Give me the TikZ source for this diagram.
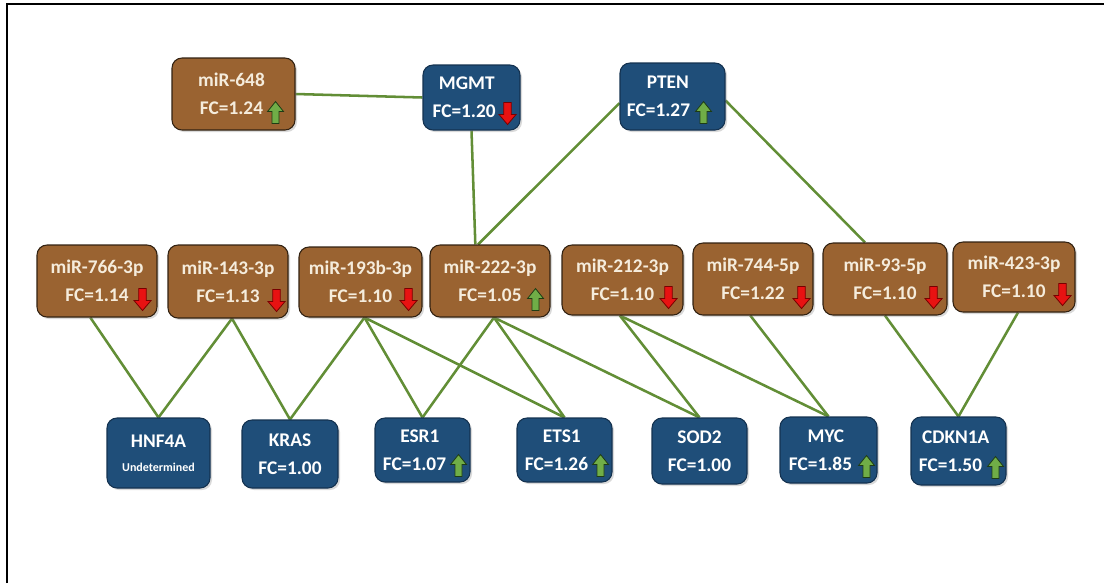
\documentclass[tikz,border=0pt]{standalone}
\usepackage{fontspec}
\setmainfont{Carlito}
\usetikzlibrary{shadows,backgrounds}
\definecolor{brownf}{RGB}{154,99,49}
\definecolor{browndraw}{RGB}{50,34,18}
\definecolor{bluef}{RGB}{31,78,121}
\definecolor{bluedraw}{RGB}{20,50,80}
\definecolor{linkc}{RGB}{98,142,54}
\definecolor{cream}{RGB}{245,236,220}
\definecolor{upg}{RGB}{112,173,71}
\definecolor{upd}{RGB}{30,60,20}
\definecolor{dnr}{RGB}{232,18,18}
\definecolor{dnd}{RGB}{120,0,0}
\tikzset{
  box/.style={rounded corners=7.5pt, line width=0.8pt, align=center,
    font=\fontsize{14.5}{21}\selectfont\bfseries, inner sep=0pt,
    drop shadow={shadow xshift=1.5pt, shadow yshift=-1.5pt, opacity=0.3}},
  mirbox/.style={box, fill=brownf, draw=browndraw, text=cream},
  genebox/.style={box, fill=bluef, draw=bluedraw, text=white},
  link/.style={draw=linkc, line width=1.9pt},
  upar/.pic={\draw[fill=upg, draw=upd, line width=0.6pt] (0,-11) -- (8,-1) -- (3.5,-1) -- (3.5,11) -- (-3.5,11) -- (-3.5,-1) -- (-8,-1) -- cycle;},
  dnar/.pic={\draw[fill=dnr, draw=dnd, line width=0.6pt] (0,11) -- (8.5,1) -- (3.8,1) -- (3.8,-11) -- (-3.8,-11) -- (-3.8,1) -- (-8.5,1) -- cycle;},
}
\begin{document}
\begin{tikzpicture}[x=0.75pt,y=-0.75pt]
\useasboundingbox (0,0) rectangle (1104,583);
\draw[line width=1.2pt] (7,583) -- (7,4) -- (1104,4);
% top row
\node[mirbox, minimum width=92.25pt, minimum height=54pt] (m648) at (233.5,94) {miR-648\hspace*{3pt}\\FC=1.24\hspace*{3pt}};
\node[genebox, minimum width=72.75pt, minimum height=48.75pt] (mgmt) at (471.5,97.5) {MGMT\hspace*{7pt}\\FC=1.20\hspace*{11pt}};
\node[genebox, minimum width=78.75pt, minimum height=50.25pt] (pten) at (672.5,96.5) {PTEN\hspace*{7pt}\\FC=1.27\hspace*{21pt}};
% middle row
\node[mirbox, minimum width=90pt, minimum height=54pt] (m766) at (97,281) {miR-766-3p\\FC=1.14};
\node[mirbox, minimum width=90pt, minimum height=54.75pt] (m143) at (228,281.5) {miR-143-3p\\FC=1.13};
\node[mirbox, minimum width=92.25pt, minimum height=52.5pt] (m193) at (360.5,282) {miR-193b-3p\\FC=1.10};
\node[mirbox, minimum width=90pt, minimum height=54pt] (m222) at (490,281) {miR-222-3p\\FC=1.05};
\node[mirbox, minimum width=90.75pt, minimum height=52.5pt] (m212) at (622.5,280) {miR-212-3p\\FC=1.10};
\node[mirbox, minimum width=90pt, minimum height=54pt] (m744) at (753,279) {miR-744-5p\\FC=1.22};
\node[mirbox, minimum width=93pt, minimum height=54pt] (m93) at (885,279) {miR-93-5p\\FC=1.10};
\node[mirbox, minimum width=91.5pt, minimum height=52.5pt] (m423) at (1014,277) {miR-423-3p\\FC=1.10};
% bottom row
\node[genebox, minimum width=77.25pt, minimum height=52.5pt] (hnf) at (158.5,453) {HNF4A\\[-3pt]{\fontsize{9}{10}\selectfont Undetermined}};
\node[genebox, minimum width=72pt, minimum height=51pt] (kras) at (290,454) {KRAS\\FC=1.00};
\node[genebox, minimum width=71.25pt, minimum height=48pt] (esr) at (422.5,450) {ESR1\hspace*{4pt}\\FC=1.07\hspace*{12pt}};
\node[genebox, minimum width=71.25pt, minimum height=48pt] (ets) at (564.5,450) {ETS1\hspace*{4pt}\\FC=1.26\hspace*{12pt}};
\node[genebox, minimum width=71.25pt, minimum height=49.5pt] (sod) at (699.5,451) {SOD2\\FC=1.00};
\node[genebox, minimum width=72.75pt, minimum height=49.5pt] (myc) at (828.5,450) {MYC\hspace*{4pt}\\FC=1.85\hspace*{12pt}};
\node[genebox, minimum width=71.25pt, minimum height=51pt] (cdk) at (958.5,451) {CDKN1A\hspace*{4pt}\\FC=1.50\hspace*{12pt}};
% arrows
\pic at ([shift={(-20,-18)}]m648.south east) {upar};
\pic at ([shift={(-13,-17)}]mgmt.south east) {dnar};
\pic at ([shift={(-22,-18)}]pten.south east) {upar};
\pic at ([shift={(-15,-18)}]m766.south east) {dnar};
\pic at ([shift={(-12,-18)}]m143.south east) {dnar};
\pic at ([shift={(-14,-18)}]m193.south east) {dnar};
\pic at ([shift={(-15,-18)}]m222.south east) {upar};
\pic at ([shift={(-15,-18)}]m212.south east) {dnar};
\pic at ([shift={(-12,-18)}]m744.south east) {dnar};
\pic at ([shift={(-14,-18)}]m93.south east) {dnar};
\pic at ([shift={(-13,-18)}]m423.south east) {dnar};
\pic at ([shift={(-12,-17)}]esr.south east) {upar};
\pic at ([shift={(-12,-17)}]ets.south east) {upar};
\pic at ([shift={(-11,-17)}]myc.south east) {upar};
\pic at ([shift={(-11,-18)}]cdk.south east) {upar};
% links
\begin{scope}[on background layer]
\draw[link] (m648.east) -- (mgmt.west);
\draw[link] (mgmt.south) -- ([xshift=-11pt]m222.north);
\draw[link] ([yshift=-5pt]pten.west) -- ([xshift=-9pt]m222.north);
\draw[link] ([yshift=-3pt]pten.east) -- ([xshift=-15pt]m93.north);
\draw[link] ([xshift=-5pt]m766.south) -- (hnf.north);
\draw[link] ([xshift=3pt]m143.south) -- (hnf.north);
\draw[link] ([xshift=3pt]m143.south) -- (kras.north);
\draw[link] ([xshift=3pt]m193.south) -- (kras.north);
\draw[link] ([xshift=3pt]m193.south) -- (esr.north);
\draw[link] ([xshift=3pt]m193.south) -- (ets.north);
\draw[link] ([xshift=3pt]m222.south) -- (esr.north);
\draw[link] ([xshift=3pt]m222.south) -- (ets.north);
\draw[link] ([xshift=3pt]m222.south) -- (sod.north);
\draw[link] ([xshift=-2pt]m212.south) -- (sod.north);
\draw[link] ([xshift=-2pt]m212.south) -- (myc.north);
\draw[link] ([xshift=-2pt]m744.south) -- (myc.north);
\draw[link] (m93.south) -- (cdk.north);
\draw[link] ([xshift=3pt]m423.south) -- (cdk.north);
\end{scope}
\end{tikzpicture}
\end{document}
